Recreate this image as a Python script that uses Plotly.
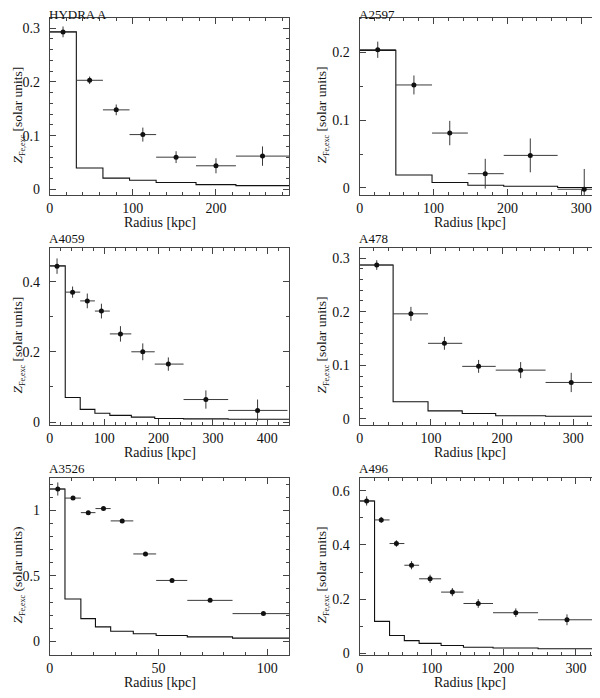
"""Fe abundance excess profiles for six clusters (3x2 panels)."""

import plotly.graph_objects as go

FONT = "Liberation Serif"
INK = "#111111"
BAR = "#3a3a3a"
FRAME = "#444444"

# The page body has an 8 px margin, so the figure is drawn 8 px in from the
# top-left corner of the 600x698 window.
PAGE_PAD = 8
W, H = 600 - PAGE_PAD, 698 - PAGE_PAD

# --------------------------------------------------------------------------- #
# Data: points, bin limits, errors and model step profile
# --------------------------------------------------------------------------- #
HYDRA_R = [16, 48, 80, 112, 152, 200, 256]
HYDRA_R_LO = [0, 32, 64, 96, 128, 176, 224]
HYDRA_R_HI = [32, 64, 96, 128, 176, 224, 290]
HYDRA_Z = [0.293, 0.203, 0.148, 0.102, 0.060, 0.044, 0.062]
HYDRA_ZERR = [0.010, 0.007, 0.010, 0.013, 0.011, 0.014, 0.018]
HYDRA_EDGES = [0, 32, 64, 96, 128, 176, 224, 290]
HYDRA_MODEL = [0.293, 0.040, 0.021, 0.017, 0.013, 0.009, 0.007]

A2597_R = [24.5, 73.5, 122, 170, 231, 304]
A2597_R_LO = [0, 49, 98, 146.5, 195, 268]
A2597_R_HI = [49, 98, 146.5, 195, 268, 340]
A2597_Z = [0.204, 0.152, 0.081, 0.021, 0.048, -0.002]
A2597_ZERR = [0.012, 0.014, 0.018, 0.022, 0.025, 0.030]
A2597_EDGES = [0, 49, 98, 146.5, 195, 268, 340]
A2597_MODEL = [0.203, 0.019, 0.008, 0.004, 0.0025, 0.0005]

A4059_R = [13.4, 42, 69, 95, 130, 171, 218, 287, 382]
A4059_R_LO = [0, 28.5, 56, 83, 110.5, 150, 193, 246, 328]
A4059_R_HI = [28.5, 56, 83, 110.5, 150, 193, 246, 328, 437]
A4059_Z = [0.444, 0.370, 0.345, 0.316, 0.251, 0.200, 0.165, 0.064, 0.033]
A4059_ZERR = [0.022, 0.016, 0.021, 0.021, 0.022, 0.024, 0.019, 0.026, 0.031]
A4059_EDGES = [0, 28.5, 56, 83, 110.5, 150, 193, 246, 328, 440]
A4059_MODEL = [0.445, 0.070, 0.036, 0.025, 0.019, 0.014, 0.010, 0.009, 0.008]

A478_R = [24, 72, 119, 167, 226, 297]
A478_R_LO = [0, 47, 96, 144, 191, 261]
A478_R_HI = [47, 96, 144, 191, 261, 333]
A478_Z = [0.287, 0.196, 0.141, 0.098, 0.091, 0.068]
A478_ZERR = [0.009, 0.013, 0.012, 0.012, 0.015, 0.018]
A478_EDGES = [0, 47, 96, 144, 191, 261, 340]
A478_MODEL = [0.287, 0.032, 0.015, 0.010, 0.006, 0.005]

A3526_R = [3.7, 10.7, 17.7, 24.7, 33.3, 44, 56.2, 73.7, 98.2]
A3526_R_LO = [0, 7, 14.3, 21, 28, 38.4, 48.9, 63.2, 84]
A3526_R_HI = [7, 14.3, 21, 28, 38.4, 48.9, 63.2, 84, 112]
A3526_Z = [1.162, 1.093, 0.982, 1.013, 0.919, 0.667, 0.465, 0.313, 0.212]
A3526_ZERR = [0.050, 0.012, 0.012, 0.012, 0.010, 0.010, 0.010, 0.010, 0.010]
A3526_EDGES = [0, 7, 14.3, 21, 28, 38.4, 48.9, 63.2, 84, 112]
A3526_MODEL = [1.162, 0.323, 0.174, 0.111, 0.078, 0.058, 0.045, 0.035, 0.025]

A496_R = [9.7, 30, 51, 72, 97.7, 128.6, 164.5, 216.6, 287.6]
A496_R_LO = [0, 20.7, 41.5, 62, 82.5, 113, 144, 185, 247.5]
A496_R_HI = [20.7, 41.5, 62, 82.5, 113, 144, 185, 247.5, 329]
A496_Z = [0.562, 0.492, 0.405, 0.325, 0.275, 0.226, 0.184, 0.150, 0.124]
A496_ZERR = [0.017, 0.011, 0.012, 0.015, 0.015, 0.015, 0.016, 0.016, 0.020]
A496_EDGES = [0, 20.7, 41.5, 62, 82.5, 113, 144, 185, 247.5, 340]
A496_MODEL = [0.562, 0.118, 0.066, 0.047, 0.037, 0.029, 0.023, 0.020, 0.017]

TITLES = ["HYDRA A", "A2597", "A4059", "A478", "A3526", "A496"]
SUB = '<sub><span style="font-size:8px">Fe,exc</span></sub>'
Y_TITLE = "<i>Z</i>" + SUB + " [solar units]"
Y_TITLE_A3526 = "<i>Z</i>" + SUB + " (solar units)"
X_TITLE = "Radius [kpc]"

# Panel geometry (pixels in the 600x698 window)
COL_X = [(46, 287), (358, 599)]
ROW_Y = [(18, 197), (250, 429), (482, 661)]

PANELS = [
    # data arrays, x range, y range, x dtick/minor, y dtick/minor, y title
    ((HYDRA_R, HYDRA_R_LO, HYDRA_R_HI, HYDRA_Z, HYDRA_ZERR, HYDRA_EDGES, HYDRA_MODEL),
     [0, 288], [-0.011, 0.319], (100, 20), (0.1, 0.02), Y_TITLE),
    ((A2597_R, A2597_R_LO, A2597_R_HI, A2597_Z, A2597_ZERR, A2597_EDGES, A2597_MODEL),
     [0, 324], [-0.011, 0.251], (100, 20), (0.1, 0.05), Y_TITLE),
    ((A4059_R, A4059_R_LO, A4059_R_HI, A4059_Z, A4059_ZERR, A4059_EDGES, A4059_MODEL),
     [0, 440], [-0.0095, 0.496], (100, 20), (0.2, 0.1), Y_TITLE),
    ((A478_R, A478_R_LO, A478_R_HI, A478_Z, A478_ZERR, A478_EDGES, A478_MODEL),
     [0, 336], [-0.012, 0.319], (100, 20), (0.1, 0.02), Y_TITLE),
    ((A3526_R, A3526_R_LO, A3526_R_HI, A3526_Z, A3526_ZERR, A3526_EDGES, A3526_MODEL),
     [0, 110], [-0.106, 1.247], (50, 10), (0.5, 0.1), Y_TITLE_A3526),
    ((A496_R, A496_R_LO, A496_R_HI, A496_Z, A496_ZERR, A496_EDGES, A496_MODEL),
     [0, 332], [-0.007, 0.647], (100, 20), (0.2, 0.1), Y_TITLE),
]


def px_x(v):
    return (v - PAGE_PAD) / W


def px_y(v):
    return 1 - (v - PAGE_PAD) / H


fig = go.Figure()
annotations = []
layout = {}

for i, (data, xr, yr, (xdt, xmin), (ydt, ymin), ytitle) in enumerate(PANELS):
    r, r_lo, r_hi, z, zerr, edges, model = data
    row, col = divmod(i, 2)
    x0, x1 = COL_X[col]
    top, bottom = ROW_Y[row]
    n = "" if i == 0 else str(i + 1)
    xa, ya = "x" + n, "y" + n

    # model step profile
    fig.add_trace(
        go.Scatter(
            x=edges,
            y=model + [model[-1]],
            mode="lines",
            line=dict(color=INK, width=1.1, shape="hv"),
            xaxis=xa,
            yaxis=ya,
            hoverinfo="skip",
            showlegend=False,
        )
    )
    # measured points
    fig.add_trace(
        go.Scatter(
            x=r,
            y=z,
            mode="markers",
            marker=dict(color=INK, size=5),
            error_x=dict(
                type="data",
                symmetric=False,
                array=[h - c for h, c in zip(r_hi, r)],
                arrayminus=[c - lo for c, lo in zip(r, r_lo)],
                color=BAR,
                thickness=1,
                width=0,
            ),
            error_y=dict(type="data", array=zerr, color=BAR, thickness=1, width=0),
            xaxis=xa,
            yaxis=ya,
            showlegend=False,
        )
    )

    common = dict(
        showline=True,
        linecolor=FRAME,
        linewidth=1,
        mirror="ticks",
        ticks="inside",
        ticklen=6,
        tickwidth=1,
        tickcolor=FRAME,
        showgrid=False,
        zeroline=False,
        tick0=0,
        tickfont=dict(family=FONT, size=14, color=INK),
    )
    layout["xaxis" + n] = dict(
        common,
        domain=[px_x(x0), px_x(x1)],
        range=xr,
        dtick=xdt,
        anchor=ya,
        ticklabelstandoff=0,
        minor=dict(ticks="inside", ticklen=3, dtick=xmin, tick0=0, tickcolor=FRAME),
    )
    layout["yaxis" + n] = dict(
        common,
        domain=[px_y(bottom), px_y(top)],
        range=yr,
        dtick=ydt,
        anchor=xa,
        ticklabelstandoff=6,
        minor=dict(ticks="inside", ticklen=3, dtick=ymin, tick0=0, tickcolor=FRAME),
    )

    # panel name just above the frame (top row kept inside the page)
    annotations.append(dict(
        text=TITLES[i], xref="paper", yref="paper",
        x=px_x(x0 - 2), y=px_y(max(top - 18, PAGE_PAD - 2)),
        xanchor="left", yanchor="top", borderpad=0,
        showarrow=False, font=dict(family=FONT, size=13, color=INK),
    ))
    annotations.append(dict(
        text=X_TITLE, xref="paper", yref="paper",
        x=px_x((x0 + x1) / 2 - 9), y=px_y(bottom + 27), xanchor="center", yanchor="middle",
        showarrow=False, font=dict(family=FONT, size=14, color=INK),
    ))
    annotations.append(dict(
        text=ytitle, xref="paper", yref="paper", textangle=-90,
        x=px_x(max(x0 - 37, 15)), y=px_y((top + bottom) / 2 + 8),
        xanchor="center", yanchor="middle",
        showarrow=False, font=dict(family=FONT, size=13.5, color=INK),
    ))

fig.update_layout(
    width=W,
    height=H,
    margin=dict(l=0, r=0, t=0, b=0),
    paper_bgcolor="white",
    plot_bgcolor="white",
    font=dict(family=FONT, color=INK),
    annotations=annotations,
    **layout,
)

fig.write_html("out.html")
